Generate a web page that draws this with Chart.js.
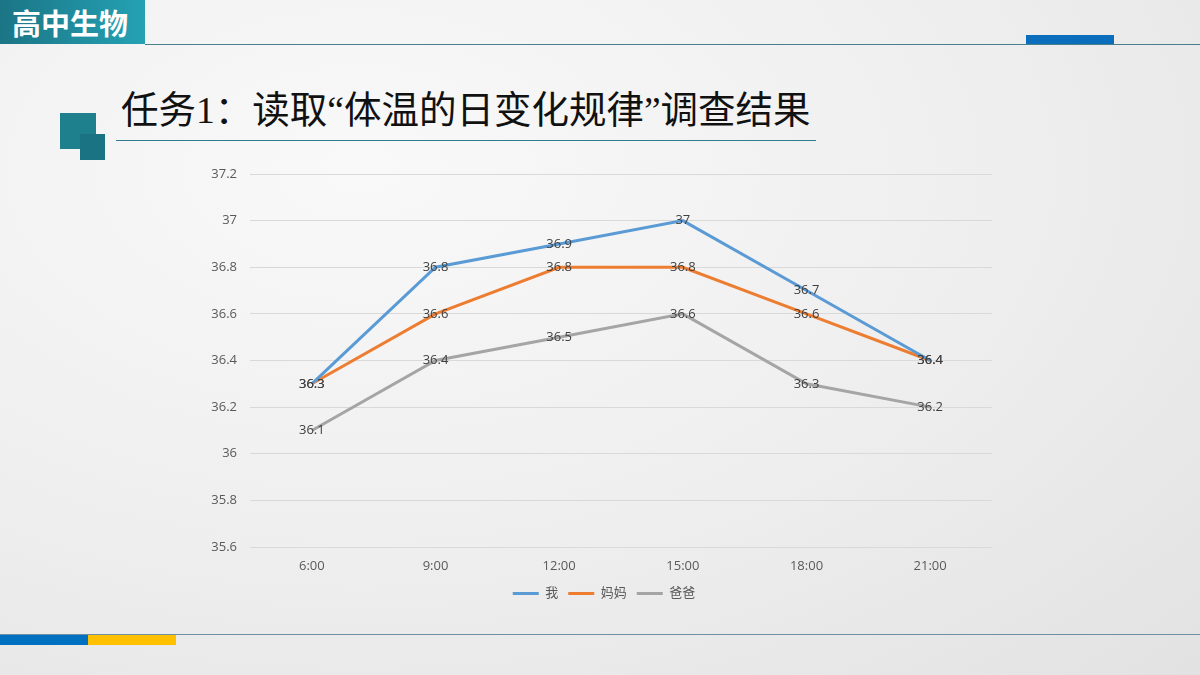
<!DOCTYPE html>
<html>
<head>
<meta charset="utf-8">
<script src="https://cdn.jsdelivr.net/npm/chart.js@4"></script>
<style>
  html, body { margin: 0; padding: 0; }
  body {
    width: 1200px; height: 675px; overflow: hidden; position: relative;
    background: radial-gradient(ellipse at 30% 25%, #f9f9f9 0%, #eeeeee 55%, #e2e2e2 100%);
    font-family: "Noto Sans CJK SC", sans-serif;
  }
  .tag {
    position: absolute; left: 0; top: 0; width: 145px; height: 44px;
    background: linear-gradient(to right, #1b7585, #24a2b4);
    color: #fff; font-weight: bold; font-size: 29px; line-height: 44px;
    padding-left: 12px; box-sizing: border-box;
  }
  .topline { position: absolute; left: 145px; right: 0; top: 44px; height: 1px; background: #4a7f8e; }
  .topblue { position: absolute; left: 1026px; top: 35px; width: 88px; height: 9px; background: #0a6ebd; }
  .sq1 { position: absolute; left: 60px; top: 113px; width: 36px; height: 36px; background: #1f808d; }
  .sq2 { position: absolute; left: 80px; top: 134px; width: 25px; height: 26px; background: #1a7382; }
  .title {
    position: absolute; left: 121px; top: 85px; font-size: 37.5px; line-height: 52px;
    color: #111; font-family: "Liberation Serif", "Noto Sans CJK SC", serif;
  }
  .titleline { position: absolute; left: 116px; top: 140px; width: 700px; height: 1px; background: #2e7d8c; }
  .botline { position: absolute; left: 0; right: 0; top: 634px; height: 1px; background: #6e8fa5; }
  .botblue { position: absolute; left: 0; top: 635px; width: 88px; height: 10px; background: #0070c0; }
  .botyellow { position: absolute; left: 88px; top: 635px; width: 88px; height: 10px; background: #ffc000; }
  canvas { position: absolute; left: 0; top: 0; }
</style>
</head>
<body>
<div class="tag">高中生物</div>
<div class="topline"></div>
<div class="topblue"></div>
<div class="sq1"></div>
<div class="sq2"></div>
<div class="title">任务1：读取“体温的日变化规律”调查结果</div>
<div class="titleline"></div>
<div class="botline"></div>
<div class="botblue"></div>
<div class="botyellow"></div>
<canvas id="tempChart" width="1200" height="675"></canvas>
<script>
const times = ["6:00", "9:00", "12:00", "15:00", "18:00", "21:00"];
const meTemps = [36.3, 36.8, 36.9, 37, 36.7, 36.4];
const momTemps = [36.3, 36.6, 36.8, 36.8, 36.6, 36.4];
const dadTemps = [36.1, 36.4, 36.5, 36.6, 36.3, 36.2];
const seriesNames = ["我", "妈妈", "爸爸"];
const seriesColors = ["#5b9bd5", "#ed7d31", "#a5a5a5"];
const yMin = 35.6, yMax = 37.2, yStep = 0.2;

const ctx = document.getElementById("tempChart").getContext("2d");
const numFont = '"Open Sans", "Noto Sans CJK SC", sans-serif';

// draw the value of every point on top of the lines
const pointLabels = {
    id: "pointLabels",
    afterDatasetsDraw(chart) {
        const c = chart.ctx;
        c.save();
        c.font = "13px " + numFont;
        c.fillStyle = "#404040";
        c.textAlign = "center";
        c.textBaseline = "middle";
        chart.data.datasets.forEach((ds, i) => {
            chart.getDatasetMeta(i).data.forEach((pt, j) => {
                c.fillText(String(ds.data[j]), pt.x, pt.y);
            });
        });
        c.restore();
    }
};

// legend sits a little right of the canvas centre in the original
const legendShift = {
    id: "legendShift",
    afterLayout(chart) {
        chart.legend.left += 13;
        chart.legend.right += 13;
    }
};

const allSeries = [meTemps, momTemps, dadTemps];

new Chart(ctx, {
    type: "line",
    data: {
        labels: times,
        datasets: allSeries.map((vals, i) => ({
            label: seriesNames[i],
            data: vals,
            borderColor: seriesColors[i],
            backgroundColor: seriesColors[i],
            borderWidth: 3,
            pointRadius: 0,
            tension: 0,
            fill: false
        }))
    },
    options: {
        responsive: false,
        animation: false,
        layout: { padding: { left: 190, right: 208, top: 174, bottom: 65 } },
        scales: {
            x: {
                offset: true,
                grid: { display: false, drawTicks: false },
                border: { display: false },
                ticks: { color: "#595959", font: { size: 13, family: numFont }, padding: 11, maxRotation: 0 },
                afterFit: s => { s.height = 30; }
            },
            y: {
                min: yMin,
                max: yMax,
                grid: { color: "#d9d9d9", drawTicks: false },
                border: { display: false },
                ticks: {
                    stepSize: yStep,
                    color: "#595959",
                    font: { size: 13, family: numFont },
                    padding: 13,
                    callback: v => String(Math.round(v * 10) / 10)
                },
                afterFit: s => { s.width = 60; }
            }
        },
        plugins: {
            legend: {
                position: "bottom",
                labels: {
                    usePointStyle: true,
                    pointStyle: "line",
                    pointStyleWidth: 26,
                    color: "#595959",
                    font: { size: 13, family: numFont },
                    padding: 10
                }
            },
            tooltip: { enabled: false }
        }
    },
    plugins: [pointLabels, legendShift]
});
</script>
</body>
</html>
